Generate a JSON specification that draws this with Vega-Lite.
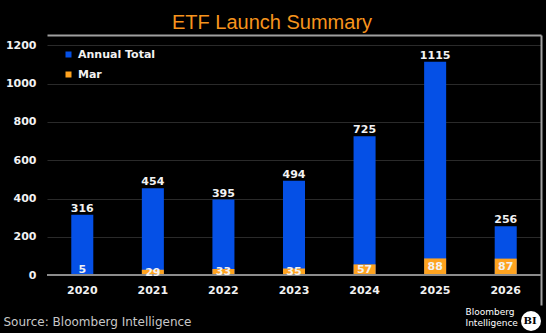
{
  "$schema": "https://vega.github.io/schema/vega-lite/v6.json",
  "width": 494,
  "height": 270,
  "autosize": "none",
  "padding": {"left": 47, "top": 35, "right": 5, "bottom": 28},
  "background": "#000000",
  "title": {
    "text": "ETF Launch Summary",
    "font": "Liberation Sans",
    "fontSize": 20,
    "fontWeight": "normal",
    "color": "#f7941d",
    "anchor": "middle",
    "frame": "group",
    "baseline": "alphabetic",
    "dx": -22,
    "dy": 21,
    "offset": 7
  },
  "config": {
    "view": {"stroke": null},
    "font": "DejaVu Sans",
    "axis": {
      "labelFont": "DejaVu Sans",
      "labelFontSize": 11,
      "labelFontWeight": "bold",
      "labelColor": "#f2f2f2"
    }
  },
  "data": {
    "values": [
      {"year": "2020", "series": "Annual Total", "value": 316},
      {"year": "2021", "series": "Annual Total", "value": 454},
      {"year": "2022", "series": "Annual Total", "value": 395},
      {"year": "2023", "series": "Annual Total", "value": 494},
      {"year": "2024", "series": "Annual Total", "value": 725},
      {"year": "2025", "series": "Annual Total", "value": 1115},
      {"year": "2026", "series": "Annual Total", "value": 256},
      {"year": "2020", "series": "Mar", "value": 5},
      {"year": "2021", "series": "Mar", "value": 29},
      {"year": "2022", "series": "Mar", "value": 33},
      {"year": "2023", "series": "Mar", "value": 35},
      {"year": "2024", "series": "Mar", "value": 57},
      {"year": "2025", "series": "Mar", "value": 88},
      {"year": "2026", "series": "Mar", "value": 87}
    ]
  },
  "resolve": {"scale": {"y": "independent"}, "axis": {"x": "independent", "y": "independent"}},
  "layer": [
    {
      "mark": {"type": "bar", "strokeWidth": 0},
      "encoding": {
        "x": {
          "field": "year",
          "type": "nominal",
          "scale": {"paddingInner": 0.688, "paddingOuter": 0.344},
          "axis": {
            "orient": "bottom",
            "domain": false,
            "ticks": false,
            "tickSize": 0,
            "grid": false,
            "labelAngle": 0,
            "labelBaseline": "middle",
            "labelPadding": -15,
            "title": "Source: Bloomberg Intelligence",
            "titleFont": "DejaVu Sans",
            "titleFontSize": 12,
            "titleFontWeight": "normal",
            "titleColor": "#c8c8c8",
            "titleAlign": "left",
            "titleAnchor": "start",
            "titleBaseline": "middle",
            "titleX": -44,
            "titleY": 16
          }
        },
        "y": {
          "field": "value",
          "type": "quantitative",
          "stack": null,
          "scale": {"domain": [-155, 1254], "nice": false, "zero": false},
          "axis": {
            "orient": "left",
            "values": [0, 200, 400, 600, 800, 1000, 1200],
            "format": "d",
            "domain": false,
            "ticks": false,
            "tickSize": 0,
            "grid": true,
            "gridColor": "#2a2a2a",
            "gridWidth": 1,
            "labelPadding": 11,
            "labelBaseline": "middle",
            "title": null
          }
        },
        "color": {
          "field": "series",
          "type": "nominal",
          "scale": {"domain": ["Annual Total", "Mar"], "range": ["#0550e6", "#ffa31f"]},
          "legend": {
            "orient": "none",
            "legendX": 16,
            "legendY": 14,
            "title": null,
            "symbolType": "square",
            "symbolSize": 36,
            "symbolStrokeWidth": 0,
            "labelFont": "DejaVu Sans",
            "labelFontSize": 11,
            "labelFontWeight": "bold",
            "labelColor": "#f2f2f2",
            "labelOffset": 4,
            "rowPadding": 8,
            "padding": 0
          }
        },
        "stroke": {
          "field": "year",
          "type": "nominal",
          "scale": {"range": ["#ffffff"]},
          "legend": {
            "orient": "none",
            "legendX": 474,
            "legendY": 276,
            "values": ["2020"],
            "labelExpr": "'BI'",
            "title": null,
            "symbolType": "circle",
            "symbolSize": 400,
            "symbolFillColor": "#ffffff",
            "symbolStrokeColor": "#ffffff",
            "symbolStrokeWidth": 0,
            "labelFont": "DejaVu Serif",
            "labelFontSize": 10,
            "labelFontWeight": "bold",
            "labelColor": "#000000",
            "labelOffset": -17.5,
            "labelBaseline": "middle",
            "padding": 0
          }
        }
      }
    },
    {
      "mark": {"type": "rule", "color": "#8c8c8c", "strokeWidth": 1.5},
      "encoding": {
        "y": {"datum": 0, "type": "quantitative", "scale": {"domain": [-155, 1254], "nice": false, "zero": false}, "axis": null}
      }
    },
    {
      "transform": [{"filter": "datum.series == 'Annual Total'"}],
      "mark": {"type": "text", "font": "DejaVu Sans", "fontSize": 11, "fontWeight": "bold", "color": "#f2f2f2", "baseline": "alphabetic", "dy": -3},
      "encoding": {
        "x": {
          "field": "year",
          "type": "nominal",
          "axis": {"orient": "top", "domain": true, "domainColor": "#a0a0a0", "domainWidth": 2, "labels": false, "ticks": false, "grid": false, "title": null}
        },
        "y": {"field": "value", "type": "quantitative", "scale": {"domain": [-155, 1254], "nice": false, "zero": false}, "axis": null},
        "text": {"field": "value", "type": "quantitative"}
      }
    },
    {
      "transform": [{"filter": "datum.series == 'Mar' && datum.value < 20"}],
      "mark": {"type": "text", "font": "DejaVu Sans", "fontSize": 11, "fontWeight": "bold", "color": "#f2f2f2", "baseline": "alphabetic", "dy": -1},
      "encoding": {
        "x": {"field": "year", "type": "nominal", "axis": null},
        "y": {"field": "value", "type": "quantitative", "scale": {"domain": [-155, 1254], "nice": false, "zero": false}, "axis": null},
        "text": {"field": "value", "type": "quantitative"}
      }
    },
    {
      "transform": [{"filter": "datum.series == 'Mar' && datum.value >= 20"}],
      "mark": {"type": "text", "font": "DejaVu Sans", "fontSize": 11, "fontWeight": "bold", "color": "#f2f2f2", "baseline": "middle"},
      "encoding": {
        "x": {"field": "year", "type": "nominal", "axis": null},
        "y": {
          "field": "value",
          "type": "quantitative",
          "scale": {"domain": [-310, 2508], "nice": false, "zero": false},
          "axis": {
            "orient": "right",
            "domain": true,
            "domainColor": "#a0a0a0",
            "domainWidth": 2,
            "labels": false,
            "ticks": false,
            "grid": false,
            "title": ["Bloomberg", "Intelligence"],
            "titleAngle": 0,
            "titleAlign": "left",
            "titleBaseline": "top",
            "titleX": -76,
            "titleY": 272,
            "titleFont": "DejaVu Sans",
            "titleFontSize": 9,
            "titleFontWeight": "normal",
            "titleColor": "#ffffff",
            "titleLineHeight": 11
          }
        },
        "text": {"field": "value", "type": "quantitative"}
      }
    }
  ]
}
